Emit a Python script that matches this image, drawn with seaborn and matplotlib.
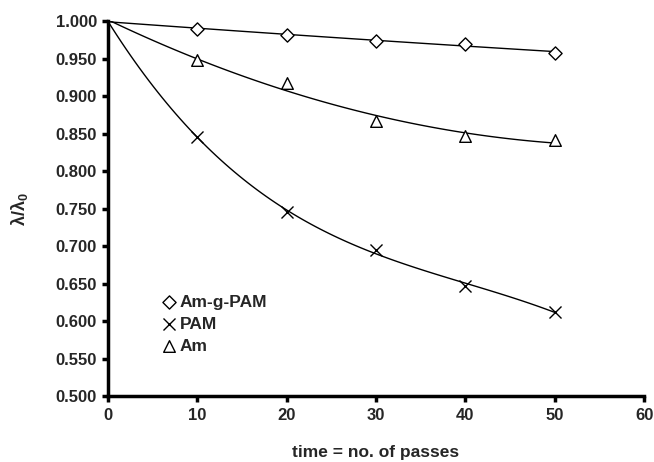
import numpy as np
import pandas as pd
import matplotlib
matplotlib.use("Agg")
import matplotlib.pyplot as plt
import seaborn as sns

# data (x = number of passes), value at 0 passes is 1.000 for all series
passes = [0, 10, 20, 30, 40, 50]
am_g_pam = [1.000, 0.989, 0.982, 0.974, 0.969, 0.958]
pam = [1.000, 0.845, 0.746, 0.695, 0.647, 0.613]
am = [1.000, 0.948, 0.918, 0.867, 0.847, 0.841]

series_names = ["Am-g-PAM", "PAM", "Am"]
x_ticks = [0, 10, 20, 30, 40, 50, 60]
y_ticks = [0.500, 0.550, 0.600, 0.650, 0.700, 0.750, 0.800, 0.850, 0.900, 0.950, 1.000]

sns.set_style("white")
plt.rcParams['font.family'] = ['Liberation Sans', 'DejaVu Sans']
plt.rcParams['mathtext.fontset'] = 'custom'
plt.rcParams['mathtext.rm'] = 'Liberation Sans:bold'
plt.rcParams['mathtext.it'] = 'Liberation Sans:bold'
plt.rcParams['mathtext.bf'] = 'Liberation Sans:bold'

fig = plt.figure(figsize=(6.54, 4.62), dpi=100)
ax = fig.add_axes([0.165, 0.1418, 0.82, 0.8127])

df = pd.DataFrame({"passes": passes, "Am-g-PAM": am_g_pam, "PAM": pam, "Am": am})
markers = {"Am-g-PAM": "D", "PAM": "x", "Am": "^"}
sizes = {"Am-g-PAM": 45, "PAM": 75, "Am": 70}
orders = {"Am-g-PAM": 2, "PAM": 3, "Am": 2}

for name in series_names:
    sns.regplot(data=df, x="passes", y=name, order=orders[name], ci=None,
                scatter=False, truncate=True, ax=ax,
                line_kws=dict(color="black", lw=1.0))
for name in series_names:
    sub = df[df["passes"] > 0]
    if markers[name] == "x":
        sns.scatterplot(data=sub, x="passes", y=name, marker="x", s=sizes[name],
                        color="black", linewidth=1.0, ax=ax, label=name, zorder=5)
    else:
        sns.scatterplot(data=sub, x="passes", y=name, marker=markers[name], s=sizes[name],
                        facecolor="white", edgecolor="black", linewidth=1.0, ax=ax,
                        label=name, zorder=5)

ax.set_xlim(0, 60)
ax.set_ylim(0.5, 1.0)
ax.set_xticks(x_ticks)
ax.set_yticks(y_ticks)
ax.set_yticklabels([f"{v:.3f}" for v in y_ticks])
ax.set_xticklabels([str(v) for v in x_ticks])

for s in ["top", "right"]:
    ax.spines[s].set_visible(False)
for s in ["left", "bottom"]:
    ax.spines[s].set_linewidth(2.5)
    ax.spines[s].set_color("black")
ax.tick_params(axis="both", which="major", direction="out", length=4, width=2.5,
               labelsize=12, color="black", pad=4,
               left=True, bottom=True)
for lab in ax.get_xticklabels() + ax.get_yticklabels():
    lab.set_fontweight("bold")

ax.set_xlabel("time = no. of passes", fontsize=12.5, fontweight="bold", labelpad=16)
ax.set_ylabel(r"$\lambda/\lambda_0$", fontsize=13, labelpad=18)

leg = ax.legend(frameon=False, loc="upper left", bbox_to_anchor=(0.085, 0.29),
                handletextpad=0.1, labelspacing=0.4, borderaxespad=0,
                handlelength=1.0, prop=dict(weight="bold", size=12.5))

fig.savefig("out.png", dpi=100)
